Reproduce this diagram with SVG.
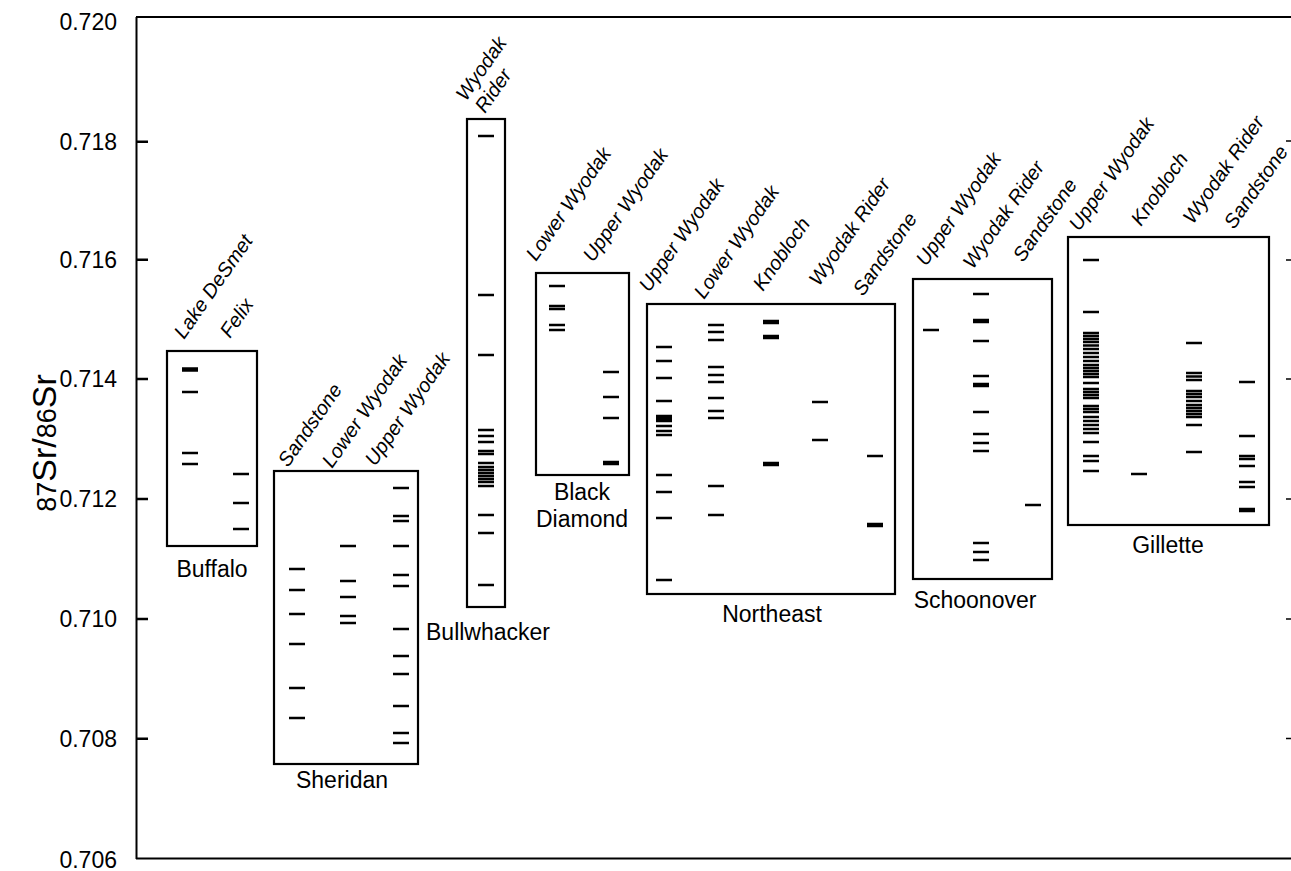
<svg xmlns="http://www.w3.org/2000/svg" width="1291" height="871" viewBox="0 0 1291 871">
<style>
text{font-family:"Liberation Sans",Arial,sans-serif;fill:#000}
.ax{font-size:23px;text-anchor:end}
.lab{font-size:23px;text-anchor:middle}
.col{font-size:20px;font-style:italic}
.box{fill:none;stroke:#000;stroke-width:2.2}
.tk{fill:none;stroke:#000;stroke-width:2.6}
.axis{fill:none;stroke:#000;stroke-width:2}
.rt{fill:none;stroke:#000;stroke-width:1.3}
</style>
<rect width="1291" height="871" fill="#fff"/>
<g id="axes">
<path class="axis" d="M136.5 17V859M136 17H1291M136 858.5H1291"/>
<path class="tk" d="M136 141.7h12M136 259.7h12M136 379h12M136 499h12M136 619h12M136 738.7h12"/>
<path class="rt" d="M1286 141h5M1286 260h5M1286 379h5M1286 499h5M1286 619h5M1286 738.5h5"/>
<text class="ax" x="117" y="30">0.720</text>
<text class="ax" x="117" y="150">0.718</text>
<text class="ax" x="117" y="268">0.716</text>
<text class="ax" x="117" y="387">0.714</text>
<text class="ax" x="117" y="507">0.712</text>
<text class="ax" x="117" y="627">0.710</text>
<text class="ax" x="117" y="747">0.708</text>
<text class="ax" x="117" y="868">0.706</text>
<text transform="translate(56,443) rotate(-90)" text-anchor="middle" style="font-size:34px"><tspan style="font-size:27px">87</tspan>Sr/<tspan style="font-size:27px">86</tspan>Sr</text>
</g>
<g id="connectors"></g>
<g id="buffalo">
<rect class="box" x="167" y="351" width="90" height="195"/>
<path class="tk" d="M182 368.5h16M182 370.5h16M182 392h16M182 453h16M182 464h16M233 474h16M233 503h16M233 529h16"/>
<text class="col" transform="translate(184,340) rotate(-55)">Lake DeSmet</text>
<text class="col" transform="translate(230,339) rotate(-55)">Felix</text>
<text class="lab" x="212" y="577">Buffalo</text>
</g>
<g id="sheridan">
<rect class="box" x="274" y="471" width="144" height="293"/>
<path class="tk" d="M289 569h16M289 590h16M289 614h16M289 644h16M289 688h16M289 718h16M340 546h16M340 581h16M340 597h16M340 616h16M340 623h16M393 488h16M393 516h16M393 521h16M393 546h16M393 575h16M393 586h16M393 629h16M393 656h16M393 674h16M393 706h16M393 733h16M393 743h16"/>
<text class="col" transform="translate(288,468) rotate(-55)">Sandstone</text>
<text class="col" transform="translate(332,469) rotate(-55)">Lower Wyodak</text>
<text class="col" transform="translate(375,467) rotate(-55)">Upper Wyodak</text>
<text class="lab" x="342" y="788">Sheridan</text>
</g>
<g id="bullwhacker">
<rect class="box" x="467" y="119" width="38" height="488"/>
<path class="tk" d="M478 136h16M478 295h16M478 355h16M478 430h16M478 436h16M478 442h16M478 451h16M478 454h16M478 463h16M478 467h16M478 470h16M478 473h16M478 476h16M478 479h16M478 482h16M478 486h16M478 515h16M478 533h16M478 585h16"/>
<text class="col" transform="translate(466,102) rotate(-55)">Wyodak</text>
<text class="col" transform="translate(485,114) rotate(-55)">Rider</text>
<text class="lab" x="488" y="640">Bullwhacker</text>
</g>
<g id="blackdiamond">
<rect class="box" x="536" y="273" width="93" height="202"/>
<path class="tk" d="M549 286h16M549 306h16M549 309h16M549 325h16M549 330h16M603 372h16M603 397h16M603 418h16M603 462h16M603 464h16"/>
<text class="col" transform="translate(536,262) rotate(-55)">Lower Wyodak</text>
<text class="col" transform="translate(593,263) rotate(-55)">Upper Wyodak</text>
<text class="lab" x="582" y="500">Black</text>
<text class="lab" x="582" y="527">Diamond</text>
</g>
<g id="northeast">
<rect class="box" x="647" y="304" width="248" height="290"/>
<path class="tk" d="M656 347h16M656 361h16M656 378h16M656 401h16M656 416h16M656 418.5h16M656 421h16M656 426h16M656 431h16M656 435h16M656 475h16M656 492h16M656 518h16M656 580h16M708 325h16M708 332h16M708 340h16M708 367h16M708 375h16M708 382h16M708 398h16M708 411h16M708 418h16M708 486h16M708 515h16M763 321h16M763 323h16M763 336h16M763 338h16M763 463h16M763 465h16M812 402h16M812 440h16M867 456h16M867 524h16M867 526h16"/>
<text class="col" transform="translate(649,293) rotate(-55)">Upper Wyodak</text>
<text class="col" transform="translate(704,300) rotate(-55)">Lower Wyodak</text>
<text class="col" transform="translate(763,292) rotate(-55)">Knobloch</text>
<text class="col" transform="translate(819,287) rotate(-55)">Wyodak Rider</text>
<text class="col" transform="translate(863,297) rotate(-55)">Sandstone</text>
<text class="lab" x="772" y="622">Northeast</text>
</g>
<g id="schoonover">
<rect class="box" x="913" y="279" width="139" height="300"/>
<path class="tk" d="M923 330h16M973 294h16M973 320h16M973 322h16M973 341h16M973 376h16M973 384h16M973 386h16M973 412h16M973 434h16M973 443h16M973 451h16M973 543h16M973 552h16M973 560h16M1025 505h16"/>
<text class="col" transform="translate(926,267) rotate(-55)">Upper Wyodak</text>
<text class="col" transform="translate(973,270) rotate(-55)">Wyodak Rider</text>
<text class="col" transform="translate(1023,263) rotate(-55)">Sandstone</text>
<text class="lab" x="975" y="608">Schoonover</text>
</g>
<g id="gillette">
<rect class="box" x="1068" y="237" width="201" height="288"/>
<path class="tk" d="M1083 260h16M1083 312h16M1083 333h16M1083 336h16M1083 339h16M1083 342h16M1083 345.5h16M1083 349h16M1083 353h16M1083 357h16M1083 361h16M1083 365h16M1083 368h16M1083 371h16M1083 374h16M1083 377h16M1083 383h16M1083 389h16M1083 392h16M1083 395h16M1083 398h16M1083 406h16M1083 409h16M1083 412h16M1083 417h16M1083 421h16M1083 425h16M1083 429h16M1083 433h16M1083 442h16M1083 456h16M1083 461h16M1083 471h16M1131 474h16M1186 343h16M1186 373h16M1186 376.5h16M1186 380h16M1186 391h16M1186 394h16M1186 397h16M1186 401h16M1186 405h16M1186 408h16M1186 411h16M1186 414h16M1186 417h16M1186 425h16M1186 452h16M1239 382h16M1239 436h16M1239 456h16M1239 459h16M1239 466h16M1239 482h16M1239 487h16M1239 509h16M1239 511h16"/>
<text class="col" transform="translate(1079,232) rotate(-55)">Upper Wyodak</text>
<text class="col" transform="translate(1141,227) rotate(-55)">Knobloch</text>
<text class="col" transform="translate(1193,225) rotate(-55)">Wyodak Rider</text>
<text class="col" transform="translate(1234,230) rotate(-55)">Sandstone</text>
<text class="lab" x="1168" y="553">Gillette</text>
</g>
</svg>
